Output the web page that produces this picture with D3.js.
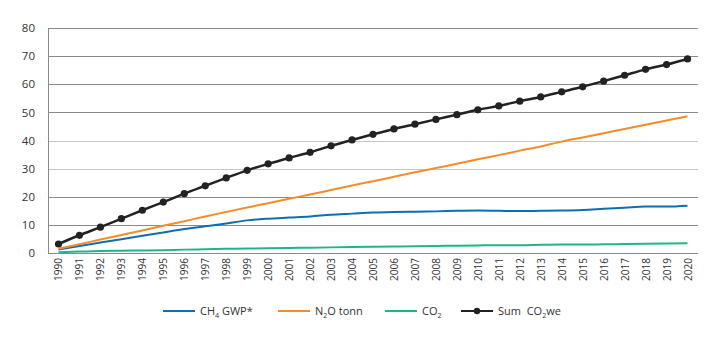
<!DOCTYPE html>
<html>
<head>
<meta charset="utf-8">
<script src="https://cdn.jsdelivr.net/npm/d3@7"></script>
<style>
  html, body { margin: 0; padding: 0; background: #fff; }
  svg { display: block; font-family: "Open Sans", "Liberation Sans", Arial, sans-serif; }
</style>
</head>
<body>
<svg id="chart" width="719" height="341"></svg>
<script>
// Years on the x axis
const years = [1990,1991,1992,1993,1994,1995,1996,1997,1998,1999,2000,2001,2002,2003,2004,2005,2006,2007,2008,2009,2010,2011,2012,2013,2014,2015,2016,2017,2018,2019,2020];

// Series values
const ch4 = [1.2,2.5,3.7,4.9,6.1,7.3,8.5,9.5,10.5,11.6,12.2,12.6,13.0,13.6,14.0,14.4,14.6,14.7,14.8,15.0,15.1,15.0,14.9,15.0,15.1,15.3,15.7,16.1,16.5,16.5,16.8];
const n2o = [1.5,3.1,4.8,6.4,8.0,9.7,11.3,13.0,14.6,16.2,17.7,19.3,20.8,22.4,24.0,25.5,27.1,28.7,30.2,31.7,33.3,34.8,36.4,37.9,39.6,41.1,42.6,44.1,45.6,47.1,48.6];
const co2 = [0.3,0.5,0.7,0.8,0.9,1.0,1.2,1.3,1.5,1.6,1.7,1.8,1.9,2.0,2.1,2.2,2.3,2.4,2.5,2.6,2.7,2.8,2.8,2.9,3.0,3.0,3.1,3.2,3.3,3.4,3.5];
const sum = [3.2,6.3,9.2,12.2,15.2,18.1,21.1,23.9,26.7,29.4,31.7,33.8,35.8,38.1,40.2,42.2,44.1,45.8,47.5,49.2,50.9,52.3,54.0,55.5,57.3,59.1,61.1,63.2,65.3,67.0,69.0];

// Y axis ticks
const yTicks = [0,10,20,30,40,50,60,70,80];

const svg = d3.select("#chart");
const plotLeft = 48, plotRight = 698, plotTop = 28, plotBottom = 253;

const x = d3.scalePoint().domain(years).range([plotLeft, plotRight]).padding(0.5);
const y = d3.scaleLinear().domain([0, 80]).range([plotBottom, plotTop]);

// Horizontal gridlines
svg.append("g").selectAll("line").data(yTicks).join("line")
  .attr("x1", plotLeft).attr("x2", plotRight)
  .attr("y1", d => Math.round(y(d)) + 0.5).attr("y2", d => Math.round(y(d)) + 0.5)
  .attr("stroke", d => (d === 30 || d === 40) ? "#c6c6c6" : "#8a8a8a")
  .attr("stroke-width", 1);

// Left axis line
svg.append("line")
  .attr("x1", plotLeft + 0.5).attr("x2", plotLeft + 0.5)
  .attr("y1", Math.round(y(80)) + 0.5).attr("y2", Math.round(y(0)) + 0.5)
  .attr("stroke", "#8a8a8a");

// Y tick labels
const yAxis = svg.append("g").attr("transform", `translate(${plotLeft},0)`)
  .call(d3.axisLeft(y).tickValues(yTicks).tickSize(0).tickPadding(13));
yAxis.select(".domain").remove();
yAxis.selectAll("text").attr("font-size", 11.5).attr("fill", "#333")
  .attr("font-family", "\"Open Sans\", sans-serif");

// X tick labels, rotated
const xAxis = svg.append("g").attr("transform", `translate(0,${plotBottom})`)
  .call(d3.axisBottom(x).tickSize(0));
xAxis.select(".domain").remove();
xAxis.selectAll("text")
  .attr("font-size", 10).attr("fill", "#333")
  .attr("font-family", "\"Open Sans\", sans-serif")
  .attr("text-anchor", "end")
  .attr("transform", "rotate(-90)")
  .attr("x", -5).attr("y", 0).attr("dy", "0.35em");

const line = d3.line().x((d, i) => x(years[i])).y(d => y(d)).curve(d3.curveMonotoneX);

const series = [
  { values: co2, color: "#1fb58c", width: 2 },
  { values: ch4, color: "#0d6fb3", width: 2 },
  { values: n2o, color: "#f68b2a", width: 2 },
  { values: sum, color: "#222222", width: 2.5 }
];

series.forEach(s => {
  svg.append("path").datum(s.values)
    .attr("fill", "none").attr("stroke", s.color)
    .attr("stroke-width", s.width).attr("d", line);
});

// Markers on the sum line
svg.append("g").selectAll("circle").data(sum).join("circle")
  .attr("cx", (d, i) => x(years[i])).attr("cy", d => y(d))
  .attr("r", 3.6).attr("fill", "#222");

// Legend
const legendY = 311;
const legend = [
  { x: 163, color: "#0d6fb3", parts: [["CH", 0], ["4", 1], [" GWP*", 0]] },
  { x: 278, color: "#f68b2a", parts: [["N", 0], ["2", 1], ["O tonn", 0]] },
  { x: 385, color: "#1fb58c", parts: [["CO", 0], ["2", 1]] },
  { x: 461, color: "#222222", parts: [["Sum\u00a0\u00a0CO", 0], ["2", 1], ["we", 0]], marker: true }
];
const lg = svg.append("g");
legend.forEach(item => {
  lg.append("line")
    .attr("x1", item.x).attr("x2", item.x + 32)
    .attr("y1", legendY).attr("y2", legendY)
    .attr("stroke", item.color).attr("stroke-width", 2);
  if (item.marker) {
    lg.append("circle").attr("cx", item.x + 16).attr("cy", legendY).attr("r", 3.2).attr("fill", item.color);
  }
  const t = lg.append("text")
    .attr("x", item.x + 37).attr("y", legendY).attr("dy", "0.35em")
    .attr("font-size", 11).attr("fill", "#333")
    .attr("font-family", "\"Open Sans\", sans-serif");
  item.parts.forEach(([txt, sub], k) => {
    const ts = t.append("tspan").text(txt);
    if (sub) ts.attr("font-size", 7).attr("dy", "3");
    else if (k > 0) ts.attr("dy", "-3");
  });
});
</script>
</body>
</html>
